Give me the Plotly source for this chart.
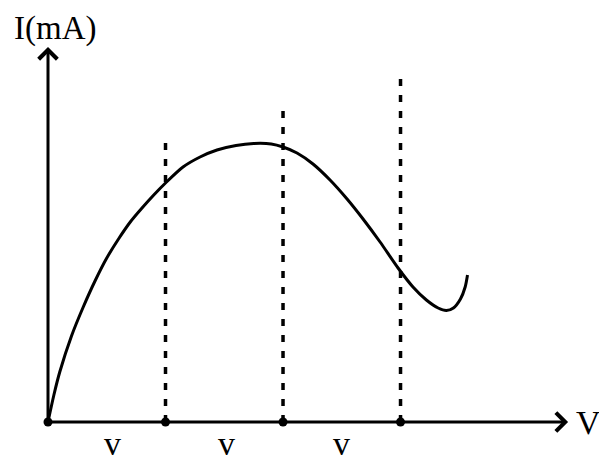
import plotly.graph_objects as go

# Curve I(V) (x in units of v, y arbitrary current units)
curve_v = [0.0, 0.05, 0.1, 0.2, 0.3, 0.4, 0.5, 0.6, 0.7, 0.8, 0.9, 1.0,
           1.149, 1.294, 1.438, 1.60, 1.75, 1.90, 2.0, 2.119, 2.255, 2.40, 2.545,
           2.681, 2.826, 2.979, 3.106, 3.22, 3.32, 3.39, 3.45, 3.51, 3.55, 3.57]
curve_i = [0.0, 0.27, 0.50, 0.86, 1.15, 1.41, 1.64, 1.83, 2.00, 2.14, 2.27, 2.39,
           2.55, 2.65, 2.72, 2.765, 2.785, 2.78, 2.75, 2.69, 2.58, 2.42, 2.23,
           2.03, 1.80, 1.54, 1.35, 1.22, 1.14, 1.115, 1.14, 1.23, 1.35, 1.47]

marker_v = [0, 1, 2, 3]
dash_v = [1, 2, 3]
dash_tops = [2.85, 3.12, 3.47]
segment_label_v = [0.55, 1.52, 2.5]
segment_labels = ["v", "v", "v"]
x_axis_label = "V"
y_axis_label = "I(mA)"

FONT = "Liberation Serif"

fig = go.Figure()

# dashed verticals
for xv, top in zip(dash_v, dash_tops):
    fig.add_trace(go.Scatter(x=[xv, xv], y=[0, top], mode="lines",
                             line=dict(color="black", width=3.5, dash="7px,9px"),
                             hoverinfo="skip", showlegend=False))

# curve
fig.add_trace(go.Scatter(x=curve_v, y=curve_i, mode="lines",
                         line=dict(color="black", width=3, shape="spline", smoothing=0.8),
                         showlegend=False))

# axis markers
fig.add_trace(go.Scatter(x=marker_v, y=[0] * len(marker_v), mode="markers",
                         marker=dict(color="black", size=9), showlegend=False))

# axes with arrows
fig.add_annotation(x=4.426, y=0, ax=0, ay=0, xref="x", yref="y", axref="x", ayref="y",
                   text="", showarrow=True, arrowhead=4, arrowsize=1.2, arrowwidth=3,
                   arrowcolor="black", standoff=0)
fig.add_annotation(x=0, y=3.75, ax=0, ay=0, xref="x", yref="y", axref="x", ayref="y",
                   text="", showarrow=True, arrowhead=4, arrowsize=1.2, arrowwidth=3,
                   arrowcolor="black", standoff=0)

# labels
fig.add_annotation(x=4.60, y=0.0, xref="x", yref="y", text=x_axis_label, showarrow=False,
                   font=dict(family=FONT, size=34, color="black"))
fig.add_annotation(x=0.06, y=3.94, xref="x", yref="y", text=y_axis_label, showarrow=False,
                   font=dict(family=FONT, size=33, color="black"))
for xv, lab in zip(segment_label_v, segment_labels):
    fig.add_annotation(x=xv, y=-0.21, xref="x", yref="y", text=lab, showarrow=False,
                       font=dict(family=FONT, size=34, color="black"))

fig.update_layout(
    width=599, height=455,
    margin=dict(l=0, r=0, t=0, b=0),
    paper_bgcolor="white", plot_bgcolor="white",
    xaxis=dict(range=[-0.3404, 4.757], visible=False, fixedrange=True),
    yaxis=dict(range=[-0.41, 4.14], visible=False, fixedrange=True),
)

fig.write_html("out.html")
